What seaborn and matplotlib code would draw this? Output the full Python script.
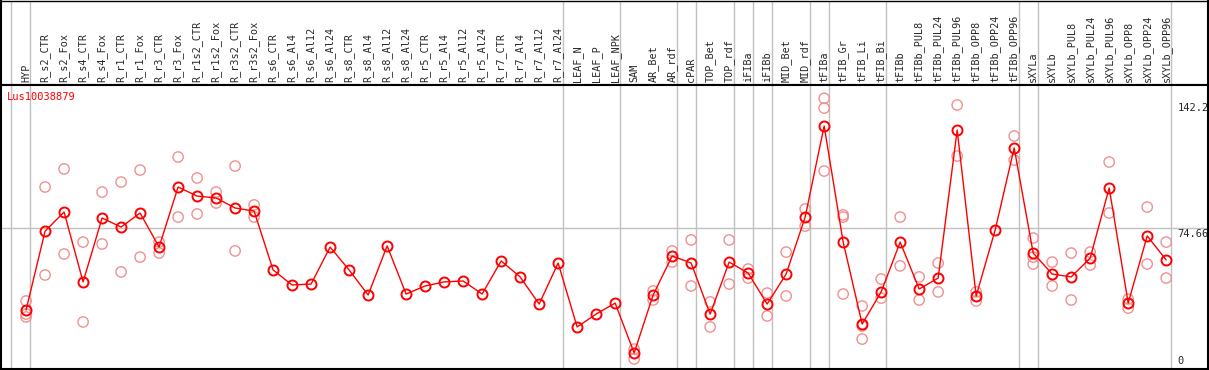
import matplotlib
matplotlib.use('Agg')
import matplotlib.pyplot as plt
import seaborn as sns
import pandas as pd

# Categories (x axis, top labels)
categories = [
    "HYP", "R_s2_CTR", "R_s2_Fox", "R_s4_CTR", "R_s4_Fox", "R_r1_CTR", "R_r1_Fox",
    "R_r3_CTR", "R_r3_Fox", "R_r1s2_CTR", "R_r1s2_Fox", "R_r3s2_CTR", "R_r3s2_Fox",
    "R_s6_CTR", "R_s6_Al4", "R_s6_Al12", "R_s6_Al24", "R_s8_CTR", "R_s8_Al4",
    "R_s8_Al12", "R_s8_Al24", "R_r5_CTR", "R_r5_Al4", "R_r5_Al12", "R_r5_Al24",
    "R_r7_CTR", "R_r7_Al4", "R_r7_Al12", "R_r7_Al24", "LEAF_N", "LEAF_P", "LEAF_NPK",
    "SAM", "AR_Bet", "AR_rdf", "cPAR", "TOP_Bet", "TOP_rdf", "iFIBa", "iFIBb",
    "MID_Bet", "MID_rdf", "tFIBa", "tFIB_Gr", "tFIB_Li", "tFIB_Bi", "tFIBb",
    "tFIBb_PUL8", "tFIBb_PUL24", "tFIBb_PUL96", "tFIBb_OPP8", "tFIBb_OPP24",
    "tFIBb_OPP96", "sXYLa", "sXYLb", "sXYLb_PUL8", "sXYLb_PUL24", "sXYLb_PUL96",
    "sXYLb_OPP8", "sXYLb_OPP24", "sXYLb_OPP96",
]

# mean expression per sample
mean_vals = [
    32.2, 73.2, 83.1, 46.8, 80.0, 75.3, 82.6, 64.9, 96.1, 91.4,
    90.4, 85.2, 83.6, 53.0, 45.2, 45.7, 64.9, 53.0, 40.0, 65.5,
    40.5, 44.7, 46.8, 47.3, 40.5, 57.7, 49.4, 35.3, 56.6, 23.4,
    30.1, 35.8, 9.9, 40.0, 60.3, 56.6, 30.1, 57.1, 51.4, 35.3,
    50.9, 80.5, 127.8, 67.5, 24.9, 41.6, 67.5, 43.1, 48.8, 125.7,
    39.5, 73.8, 116.4, 61.8, 50.9, 49.4, 59.2, 95.6, 35.8, 70.7,
    58.2,
]

# individual replicates (empty = only the mean is shown)
replicates = [
    [36.9, 30.1, 28.6], [96.1, 50.4], [105.5, 61.3], [67.5, 26.0], [93.5, 66.5],
    [98.7, 52.0], [104.9, 59.7], [67.5, 61.8], [111.7, 80.5], [100.8, 82.1],
    [93.5, 87.8], [107.0, 62.9], [86.8, 80.5],
    [], [], [], [], [], [], [], [], [], [], [], [], [], [], [], [],
    [], [], [],
    [11.9, 6.8], [42.1, 37.4], [62.9, 57.1], [68.6, 44.7], [36.4, 23.4],
    [68.6, 45.7], [53.5, 48.8], [41.0, 29.1], [62.3, 39.5], [84.7, 75.8],
    [142.2, 137.1, 104.4], [81.6, 80.5, 40.5], [34.3, 23.9, 17.1], [48.3, 38.4],
    [80.5, 55.1], [49.4, 37.4], [56.6, 41.6], [138.7, 112.2], [41.6, 36.9], [],
    [122.6, 110.1], [69.6, 59.7, 56.1], [57.1, 44.7], [61.8, 37.4], [62.3, 55.6],
    [109.1, 82.6], [37.9, 33.2], [85.7, 56.1], [67.5, 48.8],
]

# group separators sit just after these sample indices
group_ends = [-1, 0, 28, 31, 34, 35, 37, 38, 39, 41, 42, 45, 52, 53, 60]

gene = "Lus10038879"
y_max_label = 142.2
y_mid_label = 74.66

mean_df = pd.DataFrame({"x": range(len(categories)), "value": mean_vals})
rep_df = pd.DataFrame(
    [(i, v) for i, reps in enumerate(replicates) for v in reps],
    columns=["x", "value"],
)

sns.set_style("white")
plt.rcParams['font.family'] = ['DejaVu Sans Mono', 'DejaVu Sans']

W, H = 1209, 370
fig = plt.figure(figsize=(W / 100, H / 100), dpi=100)

# main plot area: px 2..1208 horizontally, 85..369 vertically
ax = fig.add_axes([1 / W, 1 / H, 1207 / W, 284 / H])
head = fig.add_axes([1 / W, 285 / H, 1207 / W, 84.5 / H], zorder=-1)

xlim = (-1.32, 62.2)
ylim = (1.56, 149.1)

grey = "#c0c0c0"
for a in (ax, head):
    a.set_xlim(*xlim)
    for g in group_ends:
        a.axvline(g + 0.23, color=grey, lw=1.0, zorder=0)
    for s in a.spines.values():
        s.set_color("black")
        s.set_linewidth(1.5)
head.spines["top"].set_linewidth(1.0)
head.set_ylim(0, 1)
head.set_xticks([])
head.set_yticks([])

ax.set_ylim(*ylim)
ax.axhline(y_mid_label, color=grey, lw=1.0, zorder=0)

sns.scatterplot(data=rep_df, x="x", y="value", ax=ax, marker="o",
                s=55, facecolor="none", edgecolor="#f09090", linewidth=1.0,
                zorder=2, legend=False)
sns.lineplot(data=mean_df, x="x", y="value", ax=ax, color="red", lw=1.0,
             marker="o", markersize=7.2, markerfacecolor="none",
             markeredgecolor="red", markeredgewidth=1.4, zorder=3)

ax.set_xlabel("")
ax.set_ylabel("")
ax.set_yticks([])
ax.set_xticks(range(len(categories)))
ax.set_xticklabels(categories, rotation=90, fontsize=7.3, va="bottom", ha="center")
ax.xaxis.set_ticks_position("top")
ax.tick_params(axis="x", length=0, pad=2, labeltop=True, labelbottom=False)

ax.text(6 / 1207, 0.958, gene, transform=ax.transAxes, color="red",
        fontsize=7.5, va="center", ha="left")

ax.annotate(f"{y_max_label}", (60.6, y_max_label), xytext=(0, -5),
            textcoords="offset pixels", fontsize=7.5, va="top", ha="left")
ax.annotate(f"{y_mid_label}", (60.6, y_mid_label), xytext=(0, -1),
            textcoords="offset pixels", fontsize=7.5, va="top", ha="left")
ax.annotate("0", (60.6, 0), xytext=(0, 6), textcoords="offset pixels",
            fontsize=7.5, va="bottom", ha="left", annotation_clip=False)

plt.savefig("out.png", dpi=100)
plt.close()
